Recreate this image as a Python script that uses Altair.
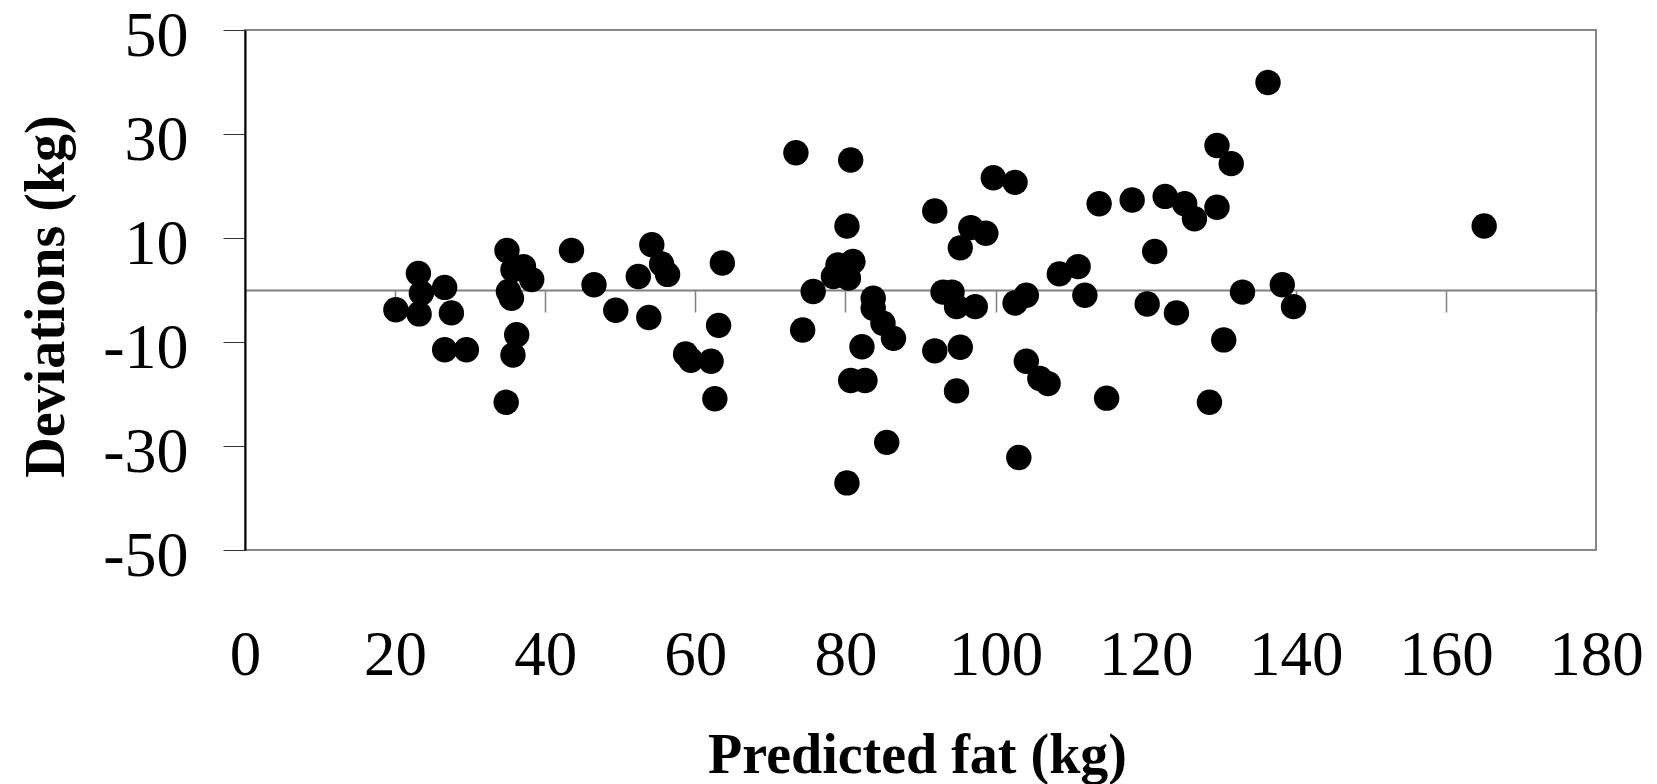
import altair as alt
import pandas as pd

predicted_fat = [
    20.1, 23.1, 23.5, 23.2, 26.6, 27.5, 26.6, 29.5,
    34.9, 37.1, 38.2, 35.7, 35.1, 35.5, 36.2, 35.7, 34.8,
    43.5, 46.5, 49.4, 54.2, 55.5, 56.3, 52.4, 53.8, 58.7, 59.4,
    62.1, 62.6, 63.1, 63.6,
    73.4, 74.3, 75.7, 78.4, 79.0, 80.4, 81.0, 80.7, 80.2,
    83.7, 83.7, 85.0, 86.4, 82.2, 80.7, 82.6, 85.5, 80.2,
    91.9, 91.9, 93.0, 94.2, 94.8, 97.3, 95.3, 94.8, 95.3, 96.7, 98.7,
    99.7, 102.6, 102.6, 104.1, 104.1, 105.9, 107.0, 103.1,
    108.5, 111.0, 111.9, 113.8, 114.8, 118.2, 121.2, 120.2, 124.1,
    122.6, 125.2, 126.5, 129.5, 129.5, 131.4, 136.3, 132.9, 138.2,
    139.7, 130.4, 128.5, 165.1,
]
deviations = [
    -3.8, 3.2, -0.6, -4.6, 0.5, -4.4, -11.5, -11.5,
    7.6, 4.5, 2.0, 3.9, -0.3, -1.6, -8.6, -12.5, -21.6,
    7.6, 1.0, -3.9, 8.7, 5.0, 3.0, 2.6, -5.3, -12.3, -13.5,
    -13.7, -20.9, -6.8, 5.2,
    26.4, -7.7, -0.3, 2.6, 4.8, 2.3, 5.5, 25.0, 12.3,
    -1.6, -3.5, -6.4, -9.3, -10.9, -17.4, -17.4, -29.3, -37.1,
    15.2, -11.7, -0.4, -0.4, -3.2, -3.2, -11.0, -19.4, 8.1, 12.0, 10.9,
    21.6, 20.7, -2.5, -1.0, -13.7, -17.0, -18.0, -32.2,
    3.1, 4.5, -1.0, 16.6, -20.8, 17.3, 7.4, -2.7, -4.4,
    18.0, 16.6, 13.7, 15.9, 27.8, 24.3, 39.9, -0.4, 1.0,
    -3.2, -9.6, -21.6, 12.3,
]
x_ticks = [0, 20, 40, 60, 80, 100, 120, 140, 160, 180]
y_ticks = [-50, -30, -10, 10, 30, 50]

df = pd.DataFrame({"fat": predicted_fat, "dev": deviations})

W, H = 1351, 520
FONT = "Liberation Serif"
HYPHEN_LABEL = "(datum.value < 0 ? '-' : '') + abs(datum.value)"

x_axis = alt.Axis(
    values=x_ticks, orient="bottom", offset=-H / 2, grid=False,
    domainColor="#808080", domainWidth=2,
    tickColor="#808080", tickWidth=1.5, tickSize=22,
    labelPadding=312, labelFont=FONT, labelFontSize=63, labelColor="black",
    labelFlush=False, labelOverlap=False,
    title="Predicted fat (kg)", titleFont=FONT, titleFontSize=56,
    titleFontWeight="bold", titleColor="black",
    titleX=672, titleY=482, titleAlign="center", titleBaseline="alphabetic",
)
y_axis = alt.Axis(
    values=y_ticks, orient="left", grid=False,
    domainColor="black", domainWidth=2,
    tickColor="#333333", tickWidth=1, tickSize=22,
    labelPadding=35, labelFont=FONT, labelFontSize=64, labelColor="black",
    labelFlush=False, labelOverlap=False, labelOffset=6,
    labelExpr=HYPHEN_LABEL,
    title="Deviations (kg)", titleFont=FONT, titleFontSize=56,
    titleFontWeight="bold", titleColor="black",
    titleX=-199, titleY=266, titleAngle=270, titleAlign="center",
    titleBaseline="middle",
)

chart = (
    alt.Chart(df)
    .mark_circle(color="black", opacity=1, size=645)
    .encode(
        x=alt.X("fat:Q", scale=alt.Scale(domain=[0, 180], nice=False, zero=False), axis=x_axis),
        y=alt.Y("dev:Q", scale=alt.Scale(domain=[-50, 50], nice=False), axis=y_axis),
    )
    .properties(
        width=W, height=H,
        autosize=alt.AutoSizeParams(type="none"),
        padding={"left": 245, "top": 30, "right": 61, "bottom": 234},
        background="white",
    )
    .configure_view(stroke="#868686", strokeWidth=2)
)

chart.save("out.html", embed_options={"renderer": "svg", "actions": False})
